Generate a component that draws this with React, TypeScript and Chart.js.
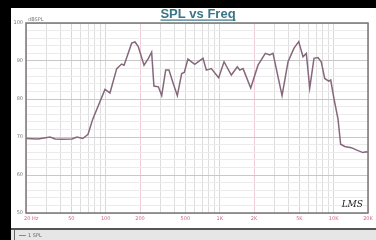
import React, { useEffect, useRef } from "react";
import { Chart, registerables } from "chart.js";

Chart.register(...registerables);

const freqs = [
  20, 25.5, 32.5, 36, 41.4, 50.6, 56, 63, 70, 77,
  98.6, 109, 125, 138, 145, 169, 181, 193, 217, 237, 253, 265, 290, 310, 336, 359, 392, 425, 464, 489, 527,
  604, 714, 764, 844, 980, 1092, 1265, 1429, 1500, 1603, 1872, 2168, 2514, 2746, 2936, 3524, 3977, 4488, 4934,
  5380, 5752, 6164, 6718, 7280, 7780, 8340, 9040, 9420, 10070, 10916, 11512, 12500, 14280, 15780, 18070, 19320, 20000,
];
const spl = [
  69.6, 69.5, 70, 69.5, 69.4, 69.5, 70, 69.6, 70.7, 74.7,
  82.5, 81.6, 88, 89.2, 88.9, 94.7, 95, 93.8, 88.9, 90.7, 92.3, 83.4, 83.2, 80.9, 87.6, 87.6, 84, 80.9, 86.7, 87, 90.5,
  89.1, 90.7, 87.6, 88, 85.6, 89.8, 86.3, 88.5, 87.6, 88, 82.9, 88.9, 92, 91.6, 92, 80.9, 89.8, 93.4, 95.1,
  91.1, 92, 82.9, 90.7, 90.9, 89.8, 85.4, 84.7, 85, 80, 74.7, 68.1, 67.5, 67.2, 66.6, 65.9, 66.1, 66,
];
const xGridFreqs = [
  20, 30, 40, 50, 60, 70, 80, 90, 100, 200, 300, 400, 500, 600, 700, 800, 900,
  1000, 2000, 3000, 4000, 5000, 6000, 7000, 8000, 9000, 10000, 20000,
];
const xLabelFreqs = [20, 50, 100, 200, 500, 1000, 2000, 5000, 10000, 20000];
const xLabels = ["20 Hz", "50", "100", "200", "500", "1K", "2K", "5K", "10K", "20K"];
const yLabelValues = [100, 90, 80, 70, 60, 50];
const title = "SPL vs Freq";
const yUnit = "dBSPL";
const legendText = "1 SPL";

const decorPlugin = {
  id: "decor",
  beforeDraw(chart: any) {
    const c = chart.ctx;
    c.save();
    c.fillStyle = "#000000";
    c.fillRect(0, 0, 376, 240);
    c.fillStyle = "#ffffff";
    c.fillRect(11, 8, 365, 220);
    c.fillStyle = "#555555";
    c.fillRect(11, 228, 365, 2);
    c.fillStyle = "#e6e6e6";
    c.fillRect(11, 230, 365, 10);
    c.fillStyle = "#666666";
    c.fillRect(14, 230, 1, 10);
    c.restore();
  },
  afterDraw(chart: any) {
    const c = chart.ctx;
    const xs = chart.scales.x;
    const ys = chart.scales.y;
    const a = chart.chartArea;
    c.save();
    c.strokeStyle = "#777777";
    c.lineWidth = 1.5;
    c.strokeRect(a.left, a.top, a.right - a.left, a.bottom - a.top);
    c.font = "bold 13px 'Liberation Sans', Arial, sans-serif";
    c.fillStyle = "#3a7486";
    c.textAlign = "center";
    c.textBaseline = "alphabetic";
    c.fillText(title, 198, 18);
    const tw = c.measureText(title).width;
    c.fillRect(198 - tw / 2, 19.5, tw, 1.2);
    c.font = "5px 'DejaVu Sans', sans-serif";
    c.fillStyle = "#777777";
    c.textAlign = "right";
    c.textBaseline = "middle";
    yLabelValues.forEach((v) => {
      c.fillText(String(v), a.left - 3, ys.getPixelForValue(v));
    });
    c.textAlign = "left";
    c.textBaseline = "bottom";
    c.fillText(yUnit, a.left + 2, a.top - 1);
    c.fillStyle = "#cc6c80";
    c.textBaseline = "top";
    xLabelFreqs.forEach((f, i) => {
      const px = xs.getPixelForValue(f);
      if (i === 0) {
        c.textAlign = "left";
        c.fillText(xLabels[i], px - 2, a.bottom + 3);
      } else {
        c.textAlign = "center";
        c.fillText(xLabels[i], px, a.bottom + 3);
      }
    });
    c.font = "italic 9px 'DejaVu Serif', serif";
    c.fillStyle = "#222222";
    c.textAlign = "right";
    c.textBaseline = "alphabetic";
    c.fillText("LMS", a.right - 5, a.bottom - 6);
    c.strokeStyle = "#888888";
    c.lineWidth = 1;
    c.beginPath();
    c.moveTo(19, 235.5);
    c.lineTo(26, 235.5);
    c.stroke();
    c.font = "5px 'DejaVu Sans', sans-serif";
    c.fillStyle = "#666666";
    c.textAlign = "left";
    c.textBaseline = "middle";
    c.fillText(legendText, 28, 235.5);
    c.restore();
  },
};

export default function App() {
  const ref = useRef<HTMLCanvasElement | null>(null);
  useEffect(() => {
    if (!ref.current) return;
    const labeled = new Set(xLabelFreqs);
    const chart = new Chart(ref.current, {
      type: "scatter",
      data: {
        datasets: [
          {
            data: freqs.map((f, i) => ({ x: f, y: spl[i] })),
            showLine: true,
            borderColor: "#86687c",
            borderWidth: 1.5,
            pointRadius: 0,
            tension: 0,
          },
        ],
      },
      options: {
        responsive: false,
        animation: false,
        layout: { padding: { left: 26, top: 23, right: 8, bottom: 27 } },
        plugins: { legend: { display: false }, tooltip: { enabled: false } },
        scales: {
          x: {
            type: "logarithmic",
            min: 20,
            max: 20000,
            afterBuildTicks: (axis: any) => {
              axis.ticks = xGridFreqs.map((v) => ({ value: v }));
            },
            ticks: { display: false },
            border: { display: false },
            grid: {
              drawTicks: false,
              lineWidth: 1,
              color: (ctx: any) =>
                ctx.tick && labeled.has(ctx.tick.value) ? "#f0cdd6" : "#dedede",
            },
          },
          y: {
            type: "linear",
            min: 50,
            max: 100,
            ticks: { display: false, stepSize: 2 },
            border: { display: false },
            grid: {
              drawTicks: false,
              lineWidth: 1,
              color: (ctx: any) =>
                ctx.tick && Math.round(ctx.tick.value) % 10 === 0 ? "#c8c8c8" : "#ebebeb",
            },
          },
        },
      },
      plugins: [decorPlugin],
    });
    return () => chart.destroy();
  }, []);
  return (
    <div style={{ position: "fixed", left: 0, top: 0, width: 376, height: 240 }}>
      <canvas ref={ref} width={376} height={240} style={{ display: "block" }} />
    </div>
  );
}
